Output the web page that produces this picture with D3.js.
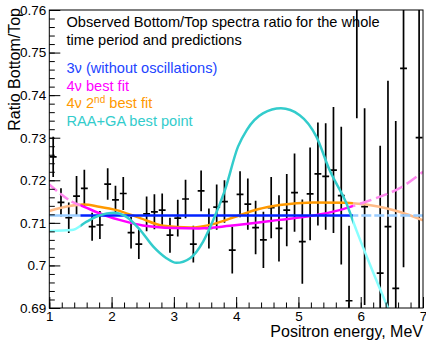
<!DOCTYPE html>
<html>
<head>
<meta charset="utf-8">
<script src="https://cdn.jsdelivr.net/npm/d3@7"></script>
<style>
body { margin: 0; background: #fff; }
text { font-family: "Liberation Sans", Arial, sans-serif; }
</style>
</head>
<body>
<div id="chart"></div>
<script>
const W = 426, H = 341;
const margin = { top: 10, right: 3, bottom: 33, left: 49.3 };

// positron energy bin centres, MeV
const energies = [1.0625, 1.1875, 1.3125, 1.4375, 1.5625, 1.6875, 1.8125, 1.9375,
    2.0625, 2.1875, 2.3125, 2.4375, 2.5625, 2.6875, 2.8125, 2.9375,
    3.0625, 3.1875, 3.3125, 3.4375, 3.5625, 3.6875, 3.8125, 3.9375,
    4.0625, 4.1875, 4.3125, 4.4375, 4.5625, 4.6875, 4.8125, 4.9375,
    5.0625, 5.1875, 5.3125, 5.4375, 5.5625, 5.6875, 5.8125, 5.9375,
    6.0625, 6.1875, 6.3125, 6.4375, 6.5625, 6.6875, 6.8125, 6.9375];
// observed bottom/top ratio (null = outside the frame)
const ratio = [0.7255, 0.7148, 0.7112, 0.7163, 0.7181, 0.7091, 0.7095, 0.7191,
    0.7154, 0.7169, 0.7077, 0.7050, 0.7121, 0.7126, 0.7130, 0.7071,
    0.7111, 0.7156, 0.7050, 0.7175, 0.7087, 0.7137, 0.7150, 0.7036,
    0.7167, 0.7144, 0.7089, 0.7060, 0.7136, 0.7087, 0.7130, 0.7171,
    0.7056, 0.7168, 0.7215, 0.7209, 0.7224, 0.7164, 0.6917, 0.7610,
    0.7138, null, 0.6982, 0.7091, 0.6946, 0.7463, null, 0.7300];
const ratioErr = [0.0047, 0.0033, 0.0036, 0.0047, 0.0044, 0.0033, 0.0033, 0.0037,
    0.0033, 0.0039, 0.0037, 0.0035, 0.0041, 0.0041, 0.0039, 0.0041,
    0.0043, 0.0045, 0.0043, 0.0048, 0.0047, 0.0053, 0.0050, 0.0055,
    0.0054, 0.0060, 0.0063, 0.0066, 0.0072, 0.0078, 0.0085, 0.0092,
    0.0099, 0.0109, 0.0121, 0.0125, 0.0148, 0.0162, 0.0176, 0.0264,
    0.0231, 0, 0.0299, 0.0343, 0.0393, 0.0467, 0, 0.0500];

// prediction curves
const noOscE = [1.0, 7.0];
const noOscR = [0.7117, 0.7117];
const best4E = [1.0, 1.36, 1.57, 1.9, 2.2, 2.5, 3.0, 3.4, 3.9, 4.7, 5.23, 5.66, 5.93, 6.3, 6.62, 7.0];
const best4R = [0.7190, 0.7150, 0.7137, 0.7117, 0.7104, 0.7094, 0.7088, 0.7087, 0.7093, 0.7107, 0.7117, 0.7130, 0.7142, 0.7161, 0.7181, 0.7220];
const second4E = [1.0, 1.3, 1.55, 1.8, 2.08, 2.46, 2.83, 3.26, 3.63, 4.0, 4.35, 4.7, 5.23, 5.77, 6.3, 6.62, 7.0];
const second4R = [0.7128, 0.7139, 0.7143, 0.7138, 0.7130, 0.7111, 0.7093, 0.7089, 0.7097, 0.7115, 0.7132, 0.7142, 0.7148, 0.7147, 0.7138, 0.7126, 0.7106];
const raaE = [1.0, 1.36, 1.6, 1.81, 2.03, 2.24, 2.46, 2.67, 2.88, 3.04, 3.26, 3.47, 3.61, 3.82, 4.03, 4.17, 4.43, 4.72, 5.02, 5.29, 5.5, 5.77, 5.93, 6.14, 6.44];
const raaR = [0.7081, 0.7083, 0.7103, 0.7118, 0.7124, 0.7114, 0.7083, 0.7044, 0.7017, 0.7006, 0.7017, 0.7056, 0.7099, 0.7177, 0.7279, 0.7318, 0.7357, 0.7369, 0.7353, 0.7302, 0.7224, 0.7146, 0.7083, 0.7005, 0.6899];

const fitRange = [1.5, 5.875];

const xTicks = [1, 2, 3, 4, 5, 6, 7];
const yTicks = [0.69, 0.70, 0.71, 0.72, 0.73, 0.74, 0.75, 0.76];

const curves = [
    { e: second4E, r: second4R, dark: '#ff9900', light: '#ffbb88', dashL: null, dashR: null },
    { e: best4E, r: best4R, dark: '#ff00ff', light: '#ff88ee', dashL: '10,4', dashR: '12,5' },
    { e: noOscE, r: noOscR, dark: '#0022ff', light: '#99ccff', dashL: null, dashR: '10,3' },
    { e: raaE, r: raaR, dark: '#33cccc', light: '#88ffff', dashL: null, dashR: null }
];

const legend = [
    { text: '3\u03bd (without oscillations)', color: '#2244ff' },
    { text: '4\u03bd best fit', color: '#ff00ff' },
    { text: '4\u03bd 2', sup: 'nd', rest: ' best fit', color: '#ff9900' },
    { text: 'RAA+GA best point', color: '#33cccc' }
];

const svg = d3.select('#chart').append('svg')
    .attr('width', W)
    .attr('height', H);

const x = d3.scaleLinear().domain([1, 7]).range([margin.left, W - margin.right]);
const y = d3.scaleLinear().domain([0.69, 0.76]).range([H - margin.bottom, margin.top]);

svg.append('clipPath').attr('id', 'frame')
    .append('rect')
    .attr('x', x(1)).attr('y', y(0.76))
    .attr('width', x(7) - x(1)).attr('height', y(0.69) - y(0.76));

// data points with error bars
const points = energies.map((e, i) => ({ e: e, r: ratio[i], err: ratioErr[i] }))
    .filter(d => d.r !== null);

const pts = svg.append('g').attr('clip-path', 'url(#frame)')
    .attr('stroke', '#000')
    .attr('stroke-width', 1.7);

pts.selectAll('.ebar')
    .data(points)
    .join('line')
    .attr('class', 'ebar')
    .attr('x1', d => x(d.e)).attr('x2', d => x(d.e))
    .attr('y1', d => y(d.r - d.err)).attr('y2', d => y(d.r + d.err));

pts.selectAll('.xbar')
    .data(points)
    .join('line')
    .attr('class', 'xbar')
    .attr('x1', d => x(d.e - 0.055)).attr('x2', d => x(d.e + 0.055))
    .attr('y1', d => y(d.r)).attr('y2', d => y(d.r));

// curves: fit range in the dark colour, outside it in the light one
const line = d3.line()
    .x(d => x(d[0]))
    .y(d => y(d[1]))
    .curve(d3.curveMonotoneX);

const curveG = svg.append('g').attr('clip-path', 'url(#frame)').attr('fill', 'none');

curves.forEach((c, ci) => {
    const cpts = c.e.map((e, i) => [e, c.r[i]]);
    [
        { lo: 1, hi: fitRange[0], col: c.light, dash: c.dashL },
        { lo: fitRange[0], hi: fitRange[1], col: c.dark, dash: null },
        { lo: fitRange[1], hi: 7, col: c.light, dash: c.dashR }
    ].forEach((s, k) => {
        const id = 'seg' + ci + '_' + k;
        svg.append('clipPath').attr('id', id)
            .append('rect')
            .attr('x', x(s.lo)).attr('y', 0)
            .attr('width', x(s.hi) - x(s.lo)).attr('height', H);
        curveG.append('g').attr('clip-path', `url(#${id})`)
            .append('path')
            .attr('d', line(cpts))
            .attr('stroke', s.col)
            .attr('stroke-width', 2.5)
            .attr('stroke-dasharray', s.dash);
    });
});

// frame
svg.append('rect')
    .attr('x', x(1)).attr('y', y(0.76))
    .attr('width', x(7) - x(1)).attr('height', y(0.69) - y(0.76))
    .attr('fill', 'none')
    .attr('stroke', '#000')
    .attr('stroke-width', 1);

// axes, ticks inside the frame
const yMinor = d3.range(0, 36).map(i => 0.69 + i * 0.002);
const xMinor = d3.range(0, 31).map(i => 1 + i * 0.2);

svg.append('g')
    .attr('transform', `translate(${x(1)},0)`)
    .call(d3.axisLeft(y).tickValues(yMinor).tickSize(-5.5).tickFormat(''))
    .call(g => g.select('.domain').remove());

svg.append('g')
    .attr('transform', `translate(${x(1)},0)`)
    .call(d3.axisLeft(y).tickValues(yTicks).tickSize(-11).tickPadding(3)
        .tickFormat(d => String(+d.toFixed(2))))
    .call(g => g.select('.domain').remove())
    .call(g => g.selectAll('text').attr('font-size', 13.5).attr('fill', '#000')
        .style('font-family', '"Liberation Sans", Arial, sans-serif'));

svg.append('g')
    .attr('transform', `translate(0,${y(0.69)})`)
    .call(d3.axisBottom(x).tickValues(xMinor).tickSize(-5.5).tickFormat(''))
    .call(g => g.select('.domain').remove());

svg.append('g')
    .attr('transform', `translate(0,${y(0.69)})`)
    .call(d3.axisBottom(x).tickValues(xTicks).tickSize(-11).tickPadding(3).tickFormat(d3.format('d')))
    .call(g => g.select('.domain').remove())
    .call(g => g.selectAll('text').attr('font-size', 13.5).attr('fill', '#000')
        .style('font-family', '"Liberation Sans", Arial, sans-serif'));

svg.selectAll('.tick line').attr('stroke', '#000');

// axis titles
svg.append('text')
    .attr('transform', 'rotate(-90)')
    .attr('x', -8)
    .attr('y', 20)
    .attr('text-anchor', 'end')
    .attr('font-size', 16)
    .text('Ratio Bottom/Top');

svg.append('text')
    .attr('x', x(7))
    .attr('y', 337)
    .attr('text-anchor', 'end')
    .attr('font-size', 16)
    .text('Positron energy, MeV');

// title and legend
svg.append('text')
    .attr('x', 66.5).attr('y', 27)
    .attr('font-size', 14.6)
    .text('Observed Bottom/Top spectra ratio for the whole');
svg.append('text')
    .attr('x', 66.5).attr('y', 45)
    .attr('font-size', 14.6)
    .text('time period and predictions');

const leg = svg.selectAll('.leg')
    .data(legend)
    .join('text')
    .attr('class', 'leg')
    .attr('x', 66.5)
    .attr('y', (d, i) => 73 + i * 17.6)
    .attr('font-size', 14.6)
    .attr('fill', d => d.color);

leg.append('tspan').text(d => d.text);
leg.filter(d => d.sup).append('tspan')
    .attr('dy', -5).attr('font-size', 10).text(d => d.sup);
leg.filter(d => d.sup).append('tspan')
    .attr('dy', 5).text(d => d.rest);
</script>
</body>
</html>
